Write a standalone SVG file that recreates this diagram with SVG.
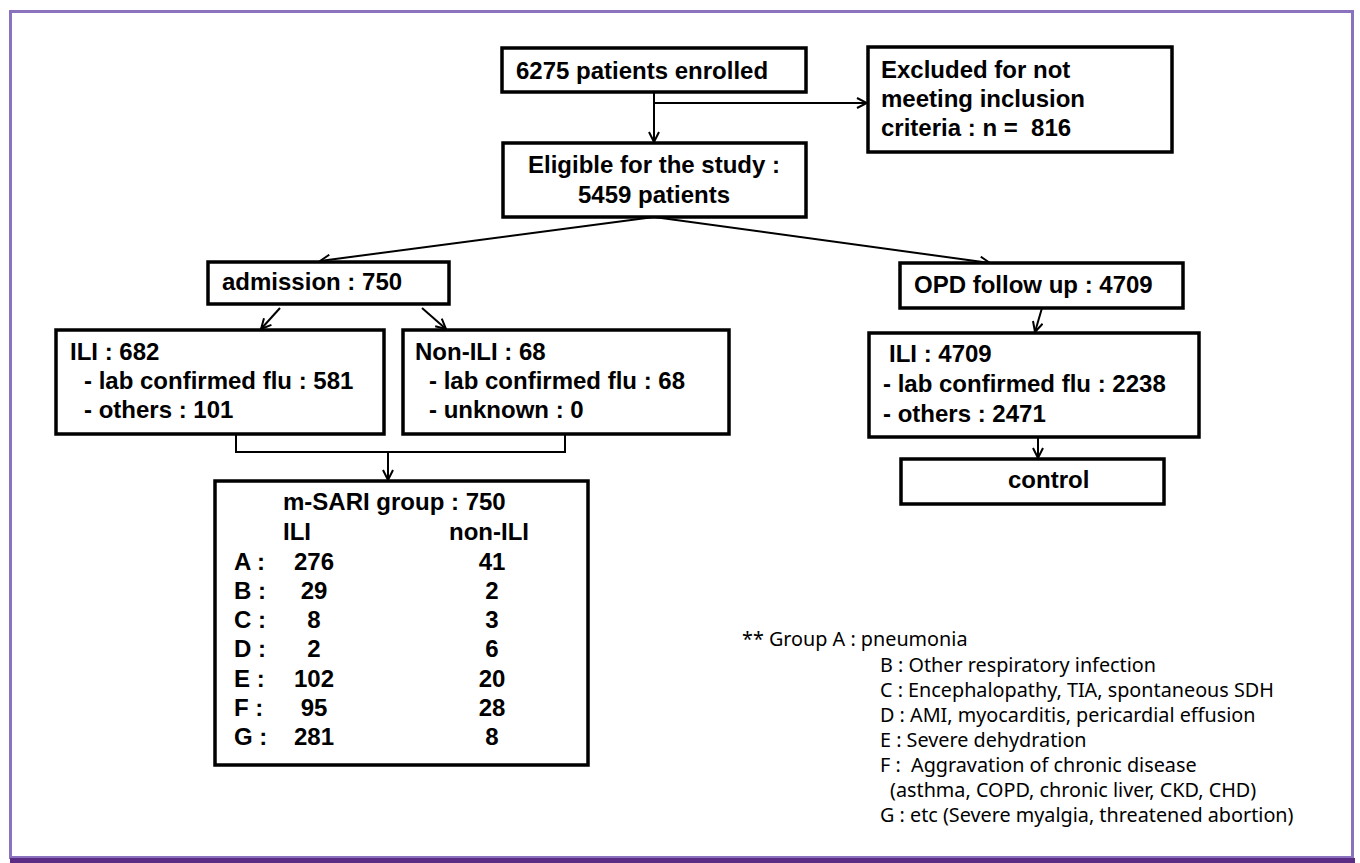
<svg xmlns="http://www.w3.org/2000/svg" width="1360" height="863" viewBox="0 0 1360 863">
<defs>
<marker id="arr" viewBox="0 0 12 12" refX="11" refY="6" markerWidth="12" markerHeight="12" markerUnits="userSpaceOnUse" orient="auto">
<path d="M1,1 L11,6 L1,11" fill="none" stroke="#000" stroke-width="2"/>
</marker>
<style>
.box{fill:#fff;stroke:#000;stroke-width:3.5}
.t{font-family:"Liberation Sans",Arial,sans-serif;font-weight:bold;font-size:24px;fill:#000;white-space:pre}
.c{text-anchor:middle}
.leg{font-family:"Noto Sans","Open Sans",sans-serif;font-size:19.8px;fill:#000;white-space:pre}
.ln{fill:none;stroke:#000;stroke-width:2}
</style>
</defs>
<rect width="1360" height="863" fill="#fff"/>
<rect x="10.5" y="11.5" width="1342" height="846" fill="none" stroke="#8b72be" stroke-width="3"/>
<rect x="10" y="858" width="1345" height="5" fill="#5b2c83"/>

<g id="connectors">
<line class="ln" x1="654" y1="92" x2="654" y2="142" marker-end="url(#arr)"/>
<line class="ln" x1="654" y1="103" x2="867" y2="103" marker-end="url(#arr)"/>
<line class="ln" x1="654" y1="217" x2="320" y2="261" marker-end="url(#arr)"/>
<line class="ln" x1="654" y1="217" x2="990" y2="263" marker-end="url(#arr)"/>
<line class="ln" x1="280" y1="308" x2="261" y2="329" marker-end="url(#arr)"/>
<line class="ln" x1="422" y1="308" x2="446" y2="329" marker-end="url(#arr)"/>
<polyline class="ln" points="236,434 236,452 565,452 565,434"/>
<line class="ln" x1="388" y1="452" x2="388" y2="480" marker-end="url(#arr)"/>
<line class="ln" x1="1042" y1="308" x2="1035" y2="332" marker-end="url(#arr)"/>
<line class="ln" x1="1038" y1="437" x2="1038" y2="458" marker-end="url(#arr)"/>
</g>

<g id="enrolled">
<rect class="box" x="502" y="48" width="304" height="44"/>
<text class="t" x="516" y="79">6275 patients enrolled</text>
</g>
<g id="excluded">
<rect class="box" x="868" y="47" width="304" height="105"/>
<text class="t" x="881" y="78">Excluded for not</text>
<text class="t" x="881" y="107">meeting inclusion</text>
<text class="t" x="881" y="136" xml:space="preserve">criteria : n =  816</text>
</g>
<g id="eligible">
<rect class="box" x="503" y="143" width="303" height="74"/>
<text class="t c" x="654" y="173">Eligible for the study :</text>
<text class="t c" x="654" y="203">5459 patients</text>
</g>
<g id="admission">
<rect class="box" x="208" y="262" width="241" height="42"/>
<text class="t" x="222" y="290">admission : 750</text>
</g>
<g id="opd">
<rect class="box" x="900" y="263" width="283" height="45"/>
<text class="t" x="914" y="293">OPD follow up : 4709</text>
</g>
<g id="ili682">
<rect class="box" x="56" y="330" width="328" height="104"/>
<text class="t" x="70" y="360">ILI : 682</text>
<text class="t" x="84" y="389">- lab confirmed flu : 581</text>
<text class="t" x="84" y="418">- others : 101</text>
</g>
<g id="nonili68">
<rect class="box" x="403" y="330" width="326" height="104"/>
<text class="t" x="415" y="360">Non-ILI : 68</text>
<text class="t" x="429" y="389">- lab confirmed flu : 68</text>
<text class="t" x="429" y="418">- unknown : 0</text>
</g>
<g id="ili4709">
<rect class="box" x="869" y="333" width="330" height="104"/>
<text class="t" x="889" y="362">ILI : 4709</text>
<text class="t" x="883" y="392">- lab confirmed flu : 2238</text>
<text class="t" x="883" y="422">- others : 2471</text>
</g>
<g id="control">
<rect class="box" x="901" y="459" width="263" height="45"/>
<text class="t" x="1008" y="488">control</text>
</g>
<g id="msari">
<rect class="box" x="215" y="481" width="373" height="284"/>
<text class="t" x="283" y="510">m-SARI group : 750</text>
<text class="t" x="283" y="540">ILI</text>
<text class="t" x="449" y="540">non-ILI</text>
<g class="t">
<text x="234" y="570">A :</text><text class="c" x="314" y="570">276</text><text class="c" x="492" y="570">41</text>
<text x="234" y="599">B :</text><text class="c" x="314" y="599">29</text><text class="c" x="492" y="599">2</text>
<text x="234" y="628">C :</text><text class="c" x="314" y="628">8</text><text class="c" x="492" y="628">3</text>
<text x="234" y="657">D :</text><text class="c" x="314" y="657">2</text><text class="c" x="492" y="657">6</text>
<text x="234" y="687">E :</text><text class="c" x="314" y="687">102</text><text class="c" x="492" y="687">20</text>
<text x="234" y="716">F :</text><text class="c" x="314" y="716">95</text><text class="c" x="492" y="716">28</text>
<text x="234" y="745">G :</text><text class="c" x="314" y="745">281</text><text class="c" x="492" y="745">8</text>
</g>
</g>
<g id="legend" class="leg">
<text x="742" y="646">** Group A : pneumonia</text>
<text x="880" y="672">B : Other respiratory infection</text>
<text x="880" y="697">C : Encephalopathy, TIA, spontaneous SDH</text>
<text x="880" y="722">D : AMI, myocarditis, pericardial effusion</text>
<text x="880" y="747">E : Severe dehydration</text>
<text x="880" y="772" xml:space="preserve">F :  Aggravation of chronic disease</text>
<text x="890" y="797">(asthma, COPD, chronic liver, CKD, CHD)</text>
<text x="880" y="822">G : etc (Severe myalgia, threatened abortion)</text>
</g>
</svg>
